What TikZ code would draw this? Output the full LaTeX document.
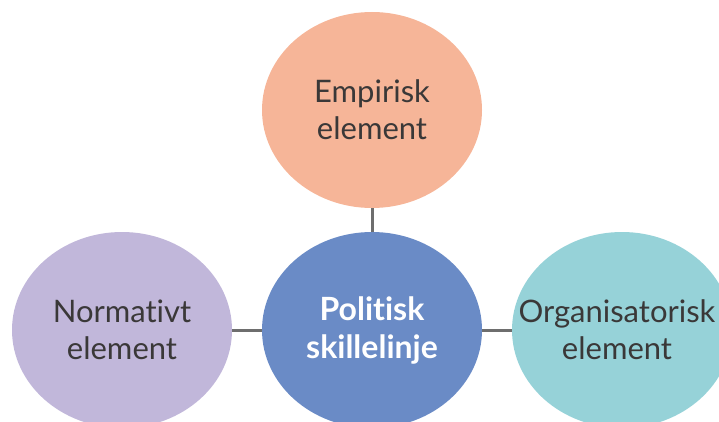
\documentclass[tikz,border=0pt]{standalone}
\usepackage{fontspec}
\setmainfont{Lato}[Ligatures=NoCommon]
\usepackage{xcolor}
\usetikzlibrary{shapes.geometric}

\definecolor{salmon}{HTML}{F6B598}
\definecolor{lavender}{HTML}{C1B7DA}
\definecolor{steel}{HTML}{6A8BC6}
\definecolor{teal}{HTML}{96D2D8}
\definecolor{textgray}{HTML}{3A3838}
\definecolor{linegray}{HTML}{6E6E6E}

\tikzset{
  elem/.style={ellipse, minimum width=220pt, minimum height=196pt, inner sep=0pt},
  elemtext/.style={align=center, text=textgray, inner sep=0pt, font=\fontsize{31}{37}\selectfont},
  hubtext/.style={elemtext, text=white, font=\bfseries\fontsize{32}{38}\selectfont},
  link/.style={line width=3pt, color=linegray}
}

\begin{document}
\begin{tikzpicture}[x=1pt,y=1pt]

	% frame
	\useasboundingbox (0,0) rectangle (719,421);
	\clip (0,0) rectangle (719,421);

	% elements

	\node[elem, fill=salmon, label={[elemtext]center:Empirisk\\element}] (empirisk) at (372,311) {};
	\node[elem, fill=steel, label={[hubtext]center:Politisk\\skillelinje}] (skille) at (372,91) {};
	\node[elem, fill=lavender, label={[elemtext]center:Normativt\\element}] (normativt) at (122,91) {};
	\node[elem, fill=teal, label={[elemtext, xshift=-5pt]center:Organisatorisk\\element}] (organis) at (622,91) {};

	% connections

	\draw[link] (empirisk) -- (skille);
	\draw[link] (normativt) -- (skille);
	\draw[link] (skille) -- (organis);

\end{tikzpicture}
\end{document}
